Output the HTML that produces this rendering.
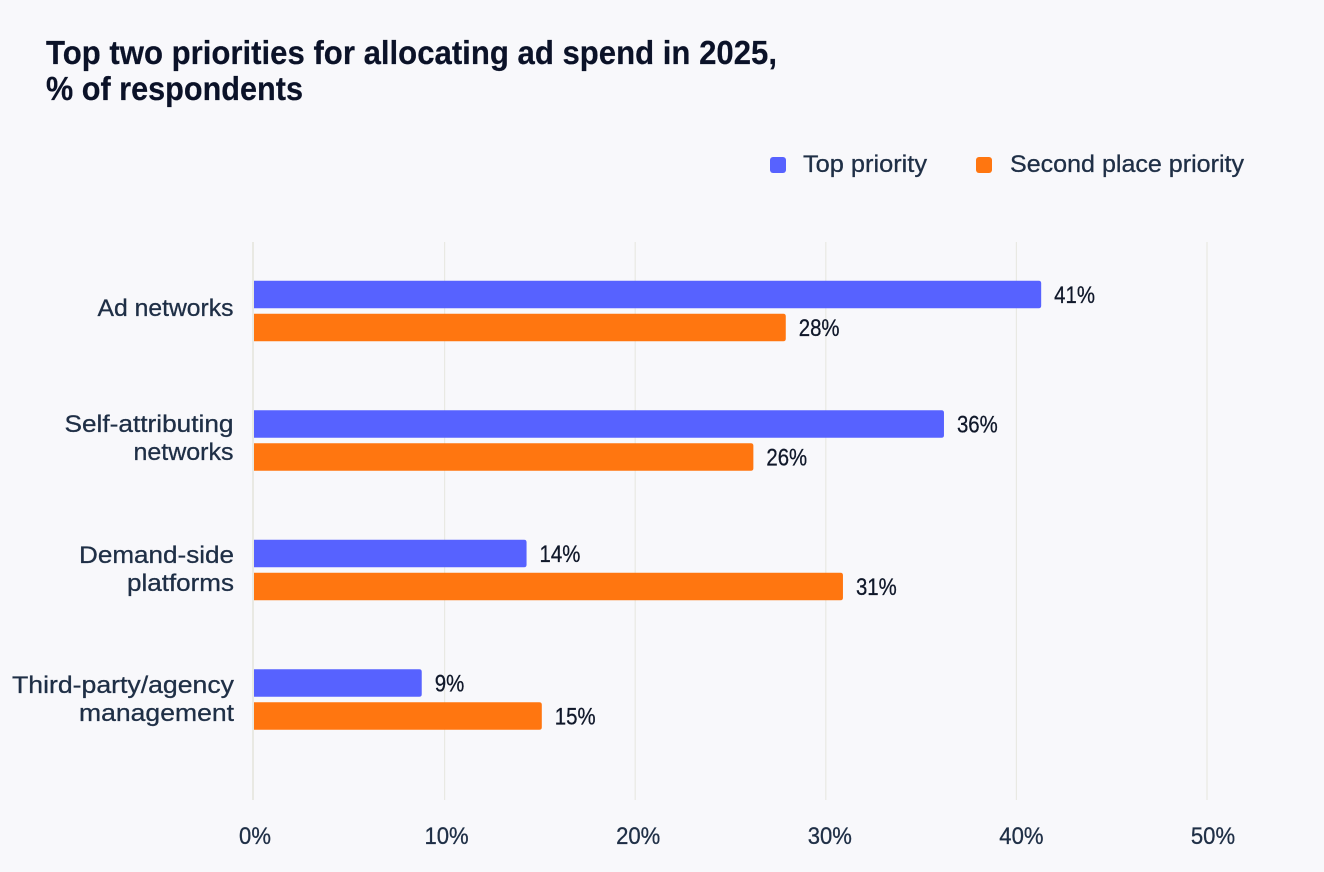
<!DOCTYPE html>
<html lang="en">
<head>
<meta charset="utf-8">
<title>Top two priorities for allocating ad spend in 2025</title>
<style>
html,body{margin:0;padding:0;background:#f8f8fb;width:1324px;height:872px;overflow:hidden}
svg{display:block}
text{font-family:"Liberation Sans",sans-serif}
.title{font-size:33px;font-weight:700;fill:#0b1228;stroke:#0b1228;stroke-width:.2px}
.lab{font-size:24px;fill:#1f2f46;stroke:#1f2f46;stroke-width:.3px}
.val{font-size:24px;fill:#10182a;stroke:#10182a;stroke-width:.3px}
</style>
</head>
<body>
<svg id="chart" xmlns="http://www.w3.org/2000/svg" width="1324" height="872" viewBox="0 0 1324 872">
  <rect x="0" y="0" width="1324" height="872" fill="#f8f8fb"/>
  <text class="title" x="46" y="64" textLength="731" lengthAdjust="spacingAndGlyphs">Top two priorities for allocating ad spend in 2025,</text>
  <text class="title" x="46" y="100" textLength="257" lengthAdjust="spacingAndGlyphs">% of respondents</text>
  <g>
    <rect x="770" y="157" width="16" height="16" rx="3" fill="#5762ff"/>
    <text class="lab" x="803" y="172" textLength="124" lengthAdjust="spacingAndGlyphs">Top priority</text>
    <rect x="976" y="157" width="16" height="16" rx="3" fill="#ff7610"/>
    <text class="lab" x="1010" y="172" textLength="234" lengthAdjust="spacingAndGlyphs">Second place priority</text>
  </g>
  <g id="grid"></g>
  <g id="bars"></g>
  <g id="labels"></g>
  <g>
    <text class="lab" x="233.5" y="316" text-anchor="end" textLength="136" lengthAdjust="spacingAndGlyphs">Ad networks</text>
    <text class="lab" x="233.5" y="432" text-anchor="end" textLength="169" lengthAdjust="spacingAndGlyphs">Self-attributing</text>
    <text class="lab" x="233.5" y="460" text-anchor="end" textLength="100" lengthAdjust="spacingAndGlyphs">networks</text>
    <text class="lab" x="234" y="563" text-anchor="end" textLength="155" lengthAdjust="spacingAndGlyphs">Demand-side</text>
    <text class="lab" x="234" y="591" text-anchor="end" textLength="107" lengthAdjust="spacingAndGlyphs">platforms</text>
    <text class="lab" x="234" y="693" text-anchor="end" textLength="222" lengthAdjust="spacingAndGlyphs">Third-party/agency</text>
    <text class="lab" x="234" y="721" text-anchor="end" textLength="155" lengthAdjust="spacingAndGlyphs">management</text>
  </g>
</svg>
<script>
const categories = ["Ad networks", "Self-attributing networks", "Demand-side platforms", "Third-party/agency management"];
const topPriority = [41.3, 36.2, 14.3, 8.8];
const secondPriority = [27.9, 26.2, 30.9, 15.1];
const topLabels = ["41%", "36%", "14%", "9%"];
const secondLabels = ["28%", "26%", "31%", "15%"];
const ticks = [0, 10, 20, 30, 40, 50];

const NS = "http://www.w3.org/2000/svg";
const gridG = document.getElementById("grid");
const barsG = document.getElementById("bars");
const labelsG = document.getElementById("labels");

function xScale(v) { return 254 + v * 19.06; }
function bandCenter(i) { return 311.3 + i * 129.5; }

function addText(parent, cls, x, y, anchor, str, factor) {
  const t = document.createElementNS(NS, "text");
  t.setAttribute("class", cls);
  t.setAttribute("x", x);
  t.setAttribute("y", y);
  t.setAttribute("text-anchor", anchor);
  t.textContent = str;
  parent.appendChild(t);
  t.setAttribute("textLength", (t.getComputedTextLength() * factor).toFixed(1));
  t.setAttribute("lengthAdjust", "spacingAndGlyphs");
  return t;
}

ticks.forEach(function (tick) {
  const line = document.createElementNS(NS, "line");
  
  
  line.setAttribute("x1", xScale(tick) - (tick === 0 ? 1 : 0));
  line.setAttribute("x2", xScale(tick) - (tick === 0 ? 1 : 0));
  line.setAttribute("y1", 242);
  line.setAttribute("y2", 800);
  line.setAttribute("stroke", "#e9e9e3");
  line.setAttribute("stroke-width", tick === 0 ? 2 : 1.2);
  gridG.appendChild(line);
  const t = addText(labelsG, "lab", xScale(tick) + 1 + tick * 0.1, 844, "middle", tick + "%", 0.92);
  
  
});

function drawBar(value, y, color, label) {
  const r = document.createElementNS(NS, "path");
  const x0 = xScale(0), x1 = xScale(value), h = 27.5, c = 2.5;
  r.setAttribute("d", "M" + x0 + " " + y + "H" + (x1 - c) + "Q" + x1 + " " + y + " " + x1 + " " + (y + c) +
    "V" + (y + h - c) + "Q" + x1 + " " + (y + h) + " " + (x1 - c) + " " + (y + h) + "H" + x0 + "Z");
  r.setAttribute("fill", color);
  
  
  barsG.appendChild(r);
  const t = addText(labelsG, "val", x1 + 13, y + 22, "start", label, 0.85);
  
  
}

categories.forEach(function (name, i) {
  const c = bandCenter(i);
  drawBar(topPriority[i], c - 30.5, "#5762ff", topLabels[i]);
  drawBar(secondPriority[i], c + 2.5, "#ff7610", secondLabels[i]);
});
</script>
</body>
</html>
